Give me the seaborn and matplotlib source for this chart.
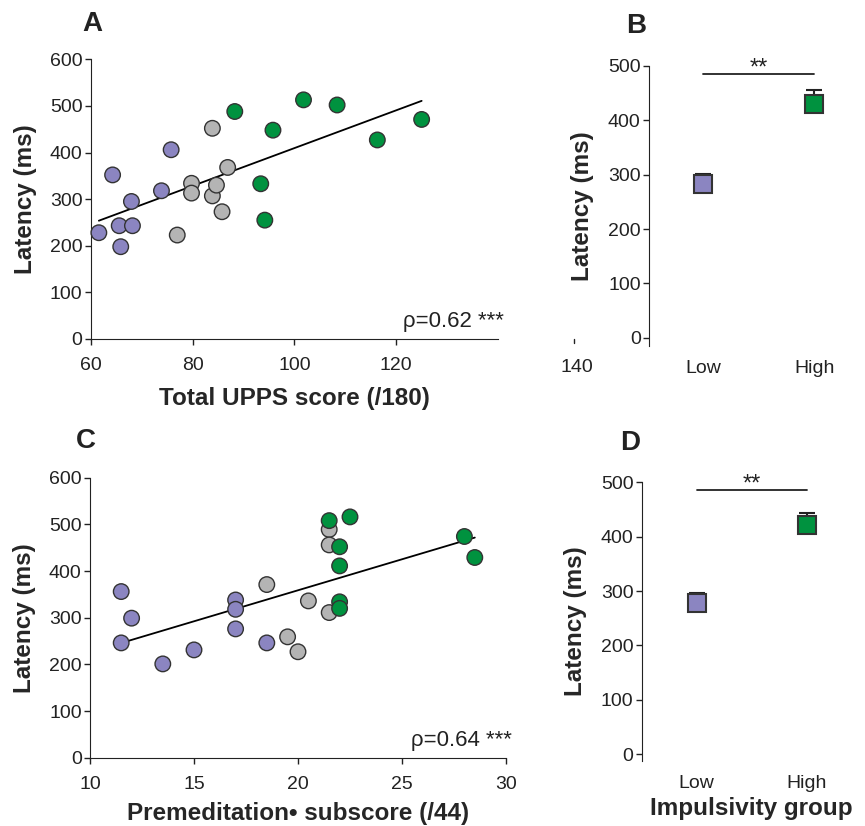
import matplotlib
matplotlib.use('Agg')
import matplotlib.pyplot as plt
import matplotlib.transforms as mtransforms
import seaborn as sns
import pandas as pd

# Panel A data: total UPPS score vs latency
upps_score = [61.6, 64.3, 65.6, 65.9, 68.0, 68.2, 73.9, 75.8,
              77.0, 79.8, 79.8, 83.9, 83.9, 84.7, 85.8, 86.9,
              88.3, 93.4, 94.2, 95.8, 101.8, 108.4, 116.3, 125.0]
upps_latency = [228, 352, 243, 198, 295, 243, 318, 406,
                223, 334, 313, 452, 307, 330, 273, 368,
                488, 333, 255, 448, 513, 502, 427, 471]
upps_group = ['Low'] * 8 + ['Mid'] * 8 + ['High'] * 8

# Panel C data: premeditation subscore vs latency
premed_score = [11.5, 11.5, 12.0, 13.5, 15.0, 17.0, 17.0, 17.0, 18.5,
                18.5, 19.5, 20.0, 20.5, 21.5, 21.5, 21.5,
                21.5, 22.5, 22.0, 22.0, 22.0, 22.0, 28.0, 28.5]
premed_latency = [356, 246, 299, 201, 231, 338, 318, 276, 246,
                  371, 259, 227, 336, 489, 456, 311,
                  508, 516, 452, 411, 334, 320, 474, 429]
premed_group = ['Low'] * 9 + ['Mid'] * 7 + ['High'] * 8

# Panels B and D: group means and SEM
groups = ['Low', 'High']
upps_means = [283, 430]
upps_sem = [19, 26]
premed_means = [278, 422]
premed_sem = [19, 21]

palette = {'Low': '#8B85C1', 'Mid': '#B4B4B4', 'High': '#00923F'}

sns.set_style('ticks')
plt.rcParams['font.family'] = ['Liberation Sans', 'DejaVu Sans']
plt.rcParams['axes.edgecolor'] = '#222222'
plt.rcParams['xtick.color'] = '#222222'
plt.rcParams['ytick.color'] = '#222222'

W, H = 865, 826
fig = plt.figure(figsize=(W / 100, H / 100), dpi=100)


def add_ax(x0, y0, x1, y1):
    # pixel box -> figure fraction
    return fig.add_axes([x0 / W, 1 - y1 / H, (x1 - x0) / W, (y1 - y0) / H])


def scatter_panel(ax, xs, ys, grp, xlim, xticks, xlabel, rho, xlabelpad):
    df = pd.DataFrame({'x': xs, 'y': ys, 'g': grp})
    sns.regplot(data=df, x='x', y='y', scatter=False, ci=None, ax=ax,
                line_kws={'color': 'black', 'lw': 1.3})
    sns.scatterplot(data=df, x='x', y='y', hue='g', palette=palette, s=125,
                    edgecolor='#333333', linewidth=1.0, legend=False, ax=ax,
                    zorder=3, clip_on=False)
    ax.set_xlim(*xlim)
    ax.set_ylim(0, 600)
    ax.set_xticks(xticks)
    ax.set_yticks(range(0, 601, 100))
    ax.tick_params(axis='y', labelsize=14, length=4, width=1, pad=2)
    ax.tick_params(axis='x', labelsize=14, length=4, width=1, pad=9)
    ax.set_xlabel(xlabel, fontsize=17.5, fontweight='bold', labelpad=xlabelpad)
    ax.set_ylabel('Latency (ms)', fontsize=17.5, fontweight='bold', labelpad=9)
    ax.text(1.015, 0.025, rho, transform=ax.transAxes, ha='right', va='bottom',
            fontsize=16, color='#222222')
    sns.despine(ax=ax)


def group_panel(ax, means, sems, ylim, xlim, xlabel=None):
    for i, (g, m, e) in enumerate(zip(groups, means, sems)):
        ax.errorbar(i, m, yerr=[[0], [e]], fmt='none', ecolor='#222222',
                    elinewidth=1.5, capsize=6, capthick=1.5, zorder=2)
        ax.plot(i, m, marker='s', ms=13, mfc=palette[g], mec='#333333',
                mew=1.5, zorder=3, clip_on=False)
    ax.set_xlim(*xlim)
    ax.set_ylim(*ylim)
    ax.set_yticks(range(0, 501, 100))
    ax.set_xticks(range(len(groups)))
    ax.set_xticklabels(groups)
    ax.tick_params(axis='y', labelsize=14, length=4, width=1, pad=2)
    ax.tick_params(axis='x', labelsize=14, length=0, pad=10)
    ax.plot([0, 1], [485, 485], color='#222222', lw=1.3, clip_on=False)
    ax.text(0.5, 476, '**', ha='center', va='bottom', fontsize=17,
            color='#222222')
    ax.set_ylabel('Latency (ms)', fontsize=17.5, fontweight='bold', labelpad=10)
    if xlabel:
        ax.set_xlabel(xlabel, fontsize=17.5, fontweight='bold', labelpad=4)
    sns.despine(ax=ax, bottom=True)


# A
axA = add_ax(90.7, 59.3, 498, 339)
scatter_panel(axA, upps_score, upps_latency, upps_group, (60, 140),
              [60, 80, 100, 120], 'Total UPPS score (/180)', 'ρ=0.62 ***', 9)
# stray "140" tick that sits off the axis in the original figure
tr = mtransforms.blended_transform_factory(axA.transData, axA.transAxes)
axA.plot([155, 155], [0, -0.014], color='#222222', lw=1, transform=tr,
         clip_on=False)
axA.text(155.5, -0.07, '140', transform=tr, ha='center', va='top',
         fontsize=14, color='#222222')

# B
axB = add_ax(649, 66, 860, 345.9)
group_panel(axB, upps_means, upps_sem, (-15, 500), (-0.49, 1.41))

# C
axC = add_ax(90, 477.7, 506, 757.7)
scatter_panel(axC, premed_score, premed_latency, premed_group, (10, 30),
              [10, 15, 20, 25, 30], 'Premeditation\u2022 subscore (/44)',
              'ρ=0.64 ***', 7)

# D
axD = add_ax(641.7, 482.3, 861.7, 760.8)
group_panel(axD, premed_means, premed_sem, (-12, 500), (-0.5, 1.5),
            xlabel='Impulsivity group')

for lab, (px, py) in {'A': (92, 24), 'B': (636, 26),
                      'C': (86, 441), 'D': (630, 443)}.items():
    fig.text(px / W, 1 - py / H, lab, fontsize=20, fontweight='bold',
             ha='center', va='center', color='#222222')

fig.savefig('out.png', dpi=100)
